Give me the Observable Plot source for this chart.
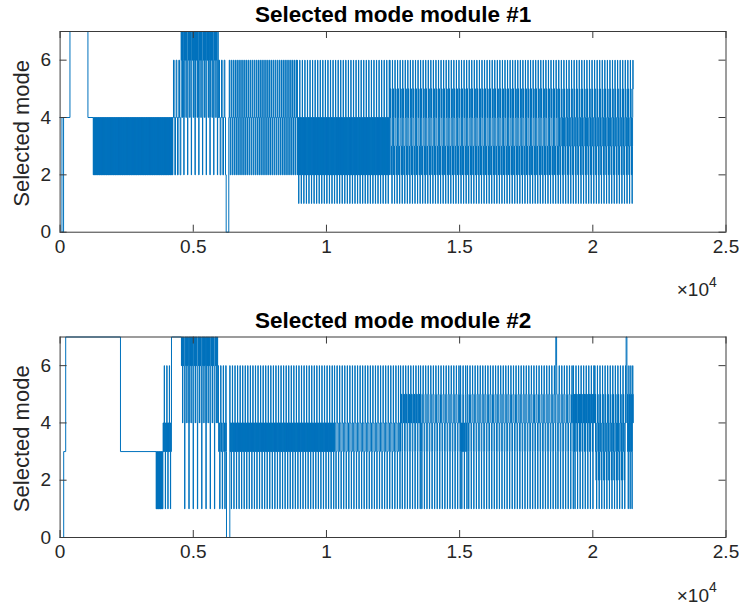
<!DOCTYPE html>
<html>
<head>
<meta charset="utf-8">
<script src="https://cdn.jsdelivr.net/npm/d3@7"></script>
<script src="https://cdn.jsdelivr.net/npm/@observablehq/plot@0.6"></script>
<style>
  html, body { margin: 0; padding: 0; background: #fff; }
  #chart { width: 739px; height: 605px; }
  #chart svg { display: block; }
</style>
</head>
<body>
<div id="chart"></div>
<script>
// ---- axis ticks ----
const xTicks = [0, 5000, 10000, 15000, 20000, 25000];
const xTickLabels = ["0", "0.5", "1", "1.5", "2", "2.5"];
const yTicks = [0, 2, 4, 6];
const titles = ["Selected mode module #1", "Selected mode module #2"];
const yLabel = "Selected mode";

// ---- module #1: regimes (start, end, sample step, cycled modes) ----
const m1Start = [0, 70, 130, 370, 1045, 1245, 4232, 4545, 5935, 6235, 6333, 8900, 12380, 18720];
const m1End   = [70, 130, 370, 1045, 1245, 4232, 4545, 5935, 6235, 6333, 8900, 12380, 18720, 21515];
const m1Step  = [0, 0, 0, 0, 0, 12, 25, 10, 25, 0, 18, 8, 6, 6];
const m1Modes = [
  [4], [0], [4], [7], [4],
  [2, 4],
  [4, 6, 4, 2],
  [7, 6, 7, 6, 4, 7, 6, 7, 6, 4, 2, 4, 7, 6],
  [4, 6, 4, 2],
  [0],
  [4, 6, 4, 2],
  [6, 4, 2, 4, 2, 4, 2, 1, 2, 4, 2, 4],
  [6, 5, 4, 5, 4, 5, 4, 3, 2, 3, 2, 3, 2, 1, 2, 3],
  [6, 5, 4, 5, 4, 3, 4, 3, 2, 3, 2, 1, 2, 3, 4, 5]
];

// ---- module #2 ----
const m2Start = [0, 135, 210, 2267, 3607, 3870, 4182, 4545, 5920, 6247, 6372, 10300, 12780, 13530, 15030, 15290, 18610, 18640, 19270, 20075, 21250, 21280];
const m2End   = [135, 210, 2267, 3607, 3870, 4182, 4545, 5920, 6247, 6372, 10300, 12780, 13530, 15030, 15290, 18610, 18640, 19270, 20075, 21250, 21280, 21515];
const m2Step  = [0, 0, 0, 0, 12, 8, 0, 10, 12, 0, 8, 8, 8, 8, 8, 8, 0, 8, 6, 6, 0, 6];
const m2Modes = [
  [0], [3], [7], [3],
  [1, 3],
  [4, 3, 4, 3, 4, 6, 4, 3, 4, 3, 1, 3],
  [7],
  [7, 6, 7, 6, 7, 4, 7, 6, 7, 6, 7, 6, 4, 1, 4, 7],
  [4, 6, 4, 3, 4, 3, 1, 3],
  [0],
  [6, 4, 3, 4, 3, 4, 3, 1, 3, 4, 3, 4],
  [6, 4, 4, 4, 4, 4, 3, 1, 3, 3, 3, 3],
  [6, 5, 4, 5, 4, 5, 4, 3, 1, 3, 4, 5],
  [6, 5, 5, 4, 4, 3, 1, 3, 4, 4, 5, 5],
  [6, 5, 4, 3, 4, 3, 1, 3, 4, 3, 4, 5],
  [6, 5, 5, 4, 4, 3, 1, 3, 4, 4, 5, 5],
  [7],
  [6, 5, 5, 4, 4, 3, 1, 3, 4, 4, 5, 5],
  [6, 5, 4, 5, 4, 5, 4, 3, 4, 3, 1, 3, 4, 5, 4, 5],
  [6, 5, 4, 5, 4, 3, 4, 3, 2, 3, 2, 1, 2, 3, 4, 5],
  [7],
  [6, 5, 4, 5, 4, 3, 4, 3, 1, 3, 4, 5]
];

// expand the regimes into the sample series
function expand(starts, ends, steps, modes) {
  const pts = [];
  let last = 0;
  for (let s = 0; s < starts.length; s++) {
    const pat = modes[s];
    if (!steps[s]) { pts.push({x: starts[s], y: pat[0]}); last = pat[0]; continue; }
    let i = 0;
    for (let x = starts[s]; x < ends[s]; x += steps[s], i++) {
      last = pat[i % pat.length];
      pts.push({x, y: last});
    }
  }
  pts.push({x: ends[ends.length - 1], y: last});
  return pts;
}

const series1 = expand(m1Start, m1End, m1Step, m1Modes);
const series2 = expand(m2Start, m2End, m2Step, m2Modes);

const FONT = "'Liberation Sans', Arial, Helvetica, sans-serif";
const AX = "#262626";
const BLUE = "#0072BD";

function chart(data, title, height, marginTop, marginBottom) {
  const marginLeft = 59.6, marginRight = 13.5, width = 739;
  const innerH = height - marginTop - marginBottom;
  const innerW = width - marginLeft - marginRight;
  const tl = 7;
  return Plot.plot({
    width, height, marginLeft, marginRight, marginTop, marginBottom,
    style: {fontFamily: FONT, background: "#fff", color: AX, overflow: "visible"},
    x: {domain: [0, 25000]},
    y: {domain: [0, 7]},
    marks: [
      Plot.line(data, {x: "x", y: "y", curve: "step-after", stroke: BLUE, strokeWidth: 1}),
      Plot.frame({stroke: "#3a3a3a", strokeWidth: 1}),
      Plot.ruleX(xTicks, {insetTop: innerH - tl, stroke: "#3a3a3a"}),
      Plot.ruleX(xTicks, {insetBottom: innerH - tl, stroke: "#3a3a3a"}),
      Plot.ruleY(yTicks, {insetRight: innerW - tl, stroke: "#3a3a3a"}),
      Plot.ruleY(yTicks, {insetLeft: innerW - tl, stroke: "#3a3a3a"}),
      Plot.axisX({ticks: xTicks, tickSize: 0, tickPadding: 7, fontSize: 19, label: null,
                  tickFormat: d => xTickLabels[xTicks.indexOf(d)]}),
      Plot.axisY({ticks: yTicks, tickSize: 0, tickPadding: 9, fontSize: 19, label: null,
                  tickFormat: d => String(d)}),
      Plot.text([title], {frameAnchor: "top", dy: -16.5, text: d => d, fontSize: 22.5,
                          fontWeight: "bold", fill: "#000", lineAnchor: "middle", textAnchor: "middle"}),
      Plot.text([yLabel], {frameAnchor: "left", rotate: -90, dx: -38.6, dy: 1.5, text: d => d,
                           fontSize: 22, fill: AX, lineAnchor: "middle", textAnchor: "middle"}),
      Plot.text(["\u00d710"], {frameAnchor: "bottom-right", dx: -17, dy: 58, text: d => d,
                               fontSize: 19, fill: AX, textAnchor: "end", lineAnchor: "middle"}),
      Plot.text(["4"], {frameAnchor: "bottom-right", dx: -17, dy: 50, text: d => d,
                        fontSize: 14, fill: AX, textAnchor: "start", lineAnchor: "middle"})
    ]
  });
}

const root = document.getElementById("chart");
root.appendChild(chart(series1, titles[0], 302, 31, 70.3));
root.appendChild(chart(series2, titles[1], 303, 34.5, 68));
</script>
</body>
</html>
